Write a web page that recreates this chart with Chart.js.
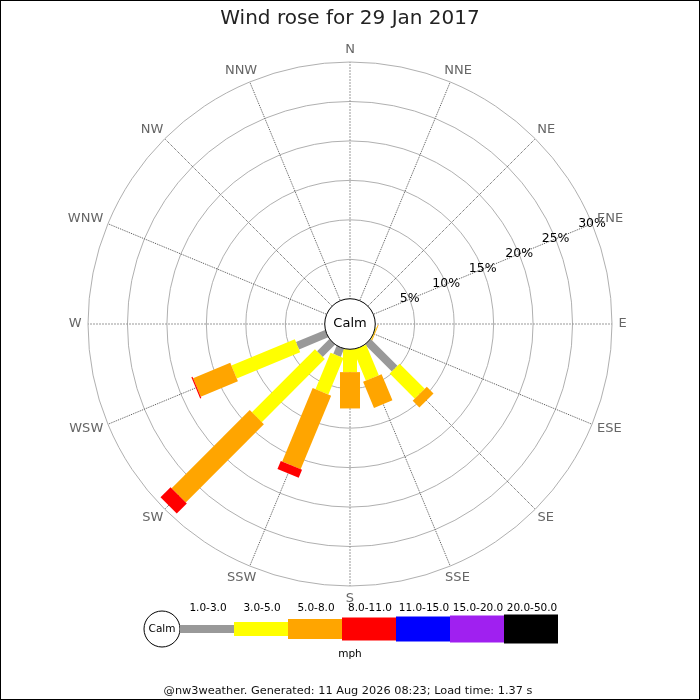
<!DOCTYPE html>
<html>
<head>
<meta charset="utf-8">
<script src="https://cdn.jsdelivr.net/npm/chart.js@4.4.1/dist/chart.umd.min.js"></script>
<style>
  html, body { margin: 0; padding: 0; background: #fff; }
  canvas { display: block; }
</style>
</head>
<body>
<canvas id="c" width="700" height="700"></canvas>
<script>
// ---- data ----
const directions = ['N','NNE','NE','ENE','E','ESE','SE','SSE','S','SSW','SW','WSW','W','WNW','NW','NNW'];
const speedBands = ['1.0-3.0','3.0-5.0','5.0-8.0','8.0-11.0','11.0-15.0','15.0-20.0','20.0-50.0'];
// percentage of time per direction, per speed band (mph)
const band1to3   = [0,0,0,0,0,0,   4.8,0,  0,  1.1, 2.2, 4.0,0,0,0,0];
const band3to5   = [0,0,0,0,0,0.1, 4.5,4.2,2.9,5.0, 11.3,8.7,0,0,0,0];
const band5to8   = [0,0,0,0,0,0.1, 1.2,3.6,4.6,10.1,14.0,5.1,0,0,0,0];
const band8to11  = [0,0,0,0,0,0,   0,  0,  0,  1.1, 1.8, 0.15,0,0,0,0];
const band11to15 = [0,0,0,0,0,0,0,0,0,0,0,0,0,0,0,0];
const band15to20 = [0,0,0,0,0,0,0,0,0,0,0,0,0,0,0,0];
const band20to50 = [0,0,0,0,0,0,0,0,0,0,0,0,0,0,0,0];
const ringTicks = [5, 10, 15, 20, 25, 30];
const titleText = 'Wind rose for 29 Jan 2017';
const footerText = '@nw3weather. Generated: 11 Aug 2026 08:23; Load time: 1.37 s';

// ---- styles ----
const bandColors = ['#999999','#ffff00','#ffa500','#ff0000','#0000ff','#a020f0','#000000'];
const bandWidths = [8, 14, 20, 23, 25, 27, 29];
const FONT = "'DejaVu Sans', 'Liberation Sans', sans-serif";

const bandSeries = [band1to3, band3to5, band5to8, band8to11, band11to15, band15to20, band20to50];
// cumulative totals per band (outer edge of each stacked bar)
const cumulative = [];
bandSeries.forEach((s, k) => {
  cumulative.push(s.map((v, i) => v + (k > 0 ? cumulative[k - 1][i] : 0)));
});

const windRosePlugin = {
  id: 'windRose',
  beforeDraw(chart) {
    const ctx = chart.ctx;
    ctx.save();
    ctx.fillStyle = '#fff';
    ctx.fillRect(0, 0, chart.width, chart.height);
    ctx.restore();
  },
  afterDatasetsDraw(chart) {
    const ctx = chart.ctx;
    const scale = chart.scales.r;
    const cx = scale.xCenter, cy = scale.yCenter;
    ctx.save();
    // stacked bars
    for (let i = 0; i < directions.length; i++) {
      const a = scale.getIndexAngle(i) - Math.PI / 2;
      for (let k = 0; k < chart.data.datasets.length; k++) {
        const outer = chart.data.datasets[k].data[i];
        const inner = k > 0 ? chart.data.datasets[k - 1].data[i] : 0;
        if (!(outer > inner)) continue;
        const r0 = scale.getDistanceFromCenterForValue(inner);
        const r1 = scale.getDistanceFromCenterForValue(outer);
        ctx.save();
        ctx.translate(cx, cy);
        ctx.rotate(a);
        ctx.fillStyle = bandColors[k];
        ctx.fillRect(r0, -bandWidths[k] / 2, r1 - r0, bandWidths[k]);
        ctx.restore();
      }
    }
    // calm circle
    const rc = scale.getDistanceFromCenterForValue(0);
    ctx.beginPath();
    ctx.arc(cx, cy, rc, 0, Math.PI * 2);
    ctx.fillStyle = '#fff';
    ctx.fill();
    ctx.lineWidth = 1;
    ctx.strokeStyle = '#000';
    ctx.stroke();
    ctx.fillStyle = '#000';
    ctx.font = '13px ' + FONT;
    ctx.textAlign = 'center';
    ctx.textBaseline = 'middle';
    ctx.fillText('Calm', cx, cy);

    // ring labels along ENE
    ctx.font = '12.5px ' + FONT;
    ringTicks.forEach(t => {
      const p = scale.getPointPositionForValue(3, t);
      ctx.fillText(t + '%', p.x, p.y);
    });

    // direction labels
    ctx.font = '13px ' + FONT;
    ctx.fillStyle = '#666';
    chart.data.labels.forEach((lab, i) => {
      const a = scale.getIndexAngle(i);
      const ux = Math.sin(a), uy = -Math.cos(a);
      const p = scale.getPointPosition(i, scale.drawingArea + 6.5);
      const w = ctx.measureText(lab).width;
      ctx.fillText(lab, p.x + ux * w / 2, p.y + uy * 6);
    });
    ctx.restore();
  },
  afterDraw(chart) {
    const ctx = chart.ctx;
    ctx.save();
    // legend
    const ly = 629;
    const lx0 = 180, segW = 54;
    ctx.beginPath();
    ctx.arc(162, ly, 18, 0, Math.PI * 2);
    ctx.fillStyle = '#fff';
    ctx.fill();
    ctx.strokeStyle = '#000';
    ctx.lineWidth = 1;
    ctx.stroke();
    ctx.fillStyle = '#000';
    ctx.textAlign = 'center';
    ctx.textBaseline = 'middle';
    ctx.font = '10.5px ' + FONT;
    ctx.fillText('Calm', 162, ly);
    speedBands.forEach((lab, k) => {
      const x = lx0 + k * segW;
      ctx.fillStyle = bandColors[k];
      ctx.fillRect(x, ly - bandWidths[k] / 2, segW, bandWidths[k]);
      ctx.fillStyle = '#000';
      ctx.font = '10.5px ' + FONT;
      ctx.fillText(lab, x + segW / 2 + 1, 608);
    });
    ctx.font = '10.5px ' + FONT;
    ctx.fillText('mph', 350, 654);
    // footer
    ctx.font = '11.3px ' + FONT;
    ctx.fillStyle = '#111';
    ctx.fillText(footerText, 348, 691);
    // border
    ctx.strokeStyle = '#000';
    ctx.lineWidth = 1;
    ctx.strokeRect(0.5, 0.5, chart.width - 1, chart.height - 1);
    ctx.restore();
  }
};

new Chart(document.getElementById('c'), {
  type: 'radar',
  data: {
    labels: directions,
    datasets: cumulative.map((d, k) => ({
      label: speedBands[k],
      data: d,
      showLine: false,
      fill: false,
      pointRadius: 0,
      pointHoverRadius: 0,
      borderWidth: 0,
      backgroundColor: bandColors[k],
      borderColor: bandColors[k]
    }))
  },
  options: {
    responsive: false,
    animation: false,
    devicePixelRatio: 1,
    layout: { padding: { left: 88, right: 88, top: 2, bottom: 114 } },
    plugins: {
      legend: { display: false },
      tooltip: { enabled: false },
      title: {
        display: true,
        text: titleText,
        color: '#222',
        font: { family: FONT, size: 20, weight: 'normal' },
        padding: { top: 5, bottom: 31 }
      }
    },
    scales: {
      r: {
        min: -3.2,
        max: 30,
        ticks: { display: false, stepSize: 5 },
        pointLabels: { display: false },
        grid: {
          circular: true,
          lineWidth: 1,
          color: (c) => (c.tick && c.tick.value > 0) ? '#b0b0b0' : 'rgba(0,0,0,0)'
        },
        angleLines: {
          color: (c) => (c.index % 4 === 0) ? '#999' : '#555',
          lineWidth: 1,
          borderDash: (c) => (c.index % 4 === 0) ? [2, 1] : [1, 1]
        }
      }
    }
  },
  plugins: [windRosePlugin]
});
</script>
</body>
</html>
